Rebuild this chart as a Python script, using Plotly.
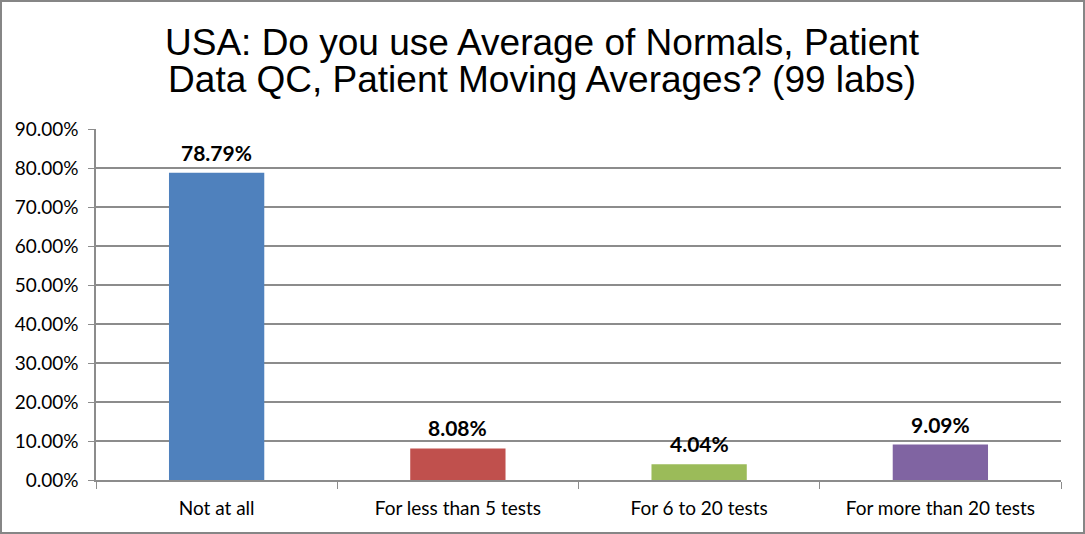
import plotly.graph_objects as go

categories = ["Not at all", "For less than 5 tests", "For 6 to 20 tests", "For more than 20 tests"]
values = [0.7879, 0.0808, 0.0404, 0.0909]
labels = ["78.79%", "8.08%", "4.04%", "9.09%"]
colors = ["#4F81BD", "#C0504D", "#9BBB59", "#8064A2"]
title_lines = ["USA: Do you use Average of Normals, Patient",
               "Data QC, Patient Moving Averages? (99 labs)"]

W, H = 1085, 534
L, R, T, B = 96, 24, 129, 54
pw, ph = W - L - R, H - T - B

fig = go.Figure(go.Bar(
    x=categories, y=values, marker=dict(color=colors, line=dict(width=0)),
    width=0.395,
))

for c, v, t in zip(categories, values, labels):
    fig.add_annotation(x=c, y=v, text="<b>%s</b>" % t, showarrow=False,
                       yanchor="bottom", yshift=6,
                       font=dict(family="Lato", size=21, color="#000000"))

title_text = "<br>".join('<span style="font-size:37px">%s</span>' % s for s in title_lines)
fig.add_annotation(xref="paper", yref="paper", x=0.463, y=1 + 68 / ph, text=title_text,
                   showarrow=False, yanchor="middle", xanchor="center", align="center",
                   font=dict(family="Liberation Sans", size=28.5, color="#000000"))

fig.add_shape(type="rect", xref="paper", yref="paper",
              x0=-(L - 1) / pw, x1=1 + (R - 1) / pw, y0=-(B - 1) / ph, y1=1 + (T - 1) / ph,
              line=dict(color="#868686", width=2))

fig.update_layout(
    width=W, height=H, margin=dict(l=L, r=R, t=T, b=B),
    paper_bgcolor="white", plot_bgcolor="white", showlegend=False,
    bargap=0.6,
)
fig.update_yaxes(range=[0, 0.9], dtick=0.1, tickformat=".2%", showgrid=True,
                 gridcolor="#8c8c8c", gridwidth=1.5, showline=True, linecolor="#8c8c8c",
                 linewidth=1.5, ticks="outside", ticklen=6, tickcolor="#8c8c8c",
                 zeroline=False, ticklabelstandoff=6,
                 tickfont=dict(family="Lato", size=19, color="#000000"))
fig.update_xaxes(showline=True, linecolor="#8c8c8c", linewidth=1.5, ticks="outside",
                 tickson="boundaries", ticklen=7, tickcolor="#8c8c8c",
                 ticklabelstandoff=10,
                 tickfont=dict(family="Lato", size=19, color="#000000"))

fig.write_html("out.html", config={"displayModeBar": False},
               post_script="document.body.style.margin='0';")
